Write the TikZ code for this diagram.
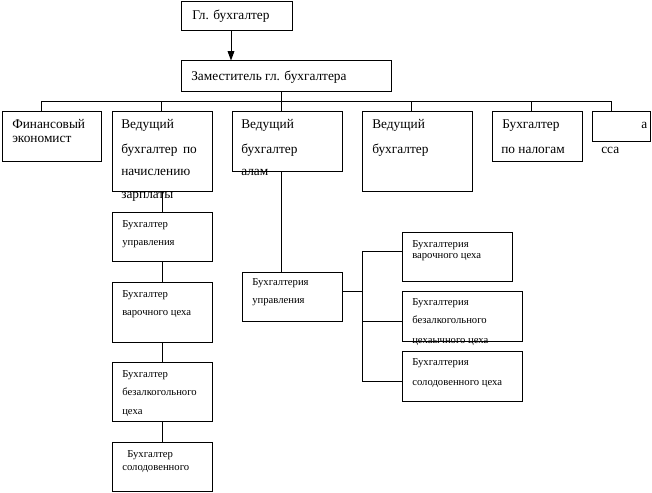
\documentclass[tikz,border=0pt]{standalone}
\usepackage{fontspec}
\setmainfont{Liberation Serif}
\usetikzlibrary{fit,arrows.meta}
\begin{document}
\begin{tikzpicture}[x=0.75pt,y=-0.75pt,
  box/.style={draw,line width=0.75pt,inner sep=0pt},
  big/.style={inner sep=0pt,anchor=base west,font=\fontsize{10}{12}\selectfont},
  sm/.style={inner sep=0pt,anchor=base west,font=\fontsize{8}{10}\selectfont},
  ln/.style={line width=0.75pt}]
\useasboundingbox (0,0) rectangle (652,492);
% boxes
\node[box,fit={(181,2) (292,31)}] (gl) {};
\node[box,fit={(181,61) (391,91)}] (zam) {};
\node[box,fit={(2,111) (101,161)}] (fin) {};
\node[box,fit={(112,111) (212,191)}] (ved1) {};
\node[box,fit={(232,111) (342,171)}] (ved2) {};
\node[box,fit={(362,111) (472,191)}] (ved3) {};
\node[box,fit={(492,111) (582,161)}] (nal) {};
\node[box,fit={(592,111) (650,141)}] (kas) {};
\node[box,fit={(112,212) (212,261)}] (l1) {};
\node[box,fit={(112,282) (212,342)}] (l2) {};
\node[box,fit={(112,362) (212,421)}] (l3) {};
\node[box,fit={(112,442) (212,491)}] (l4) {};
\node[box,fit={(242,272) (342,321)}] (m) {};
\node[box,fit={(402,232) (512,281)}] (r1) {};
\node[box,fit={(402,291) (522,341)}] (r2) {};
\node[box,fit={(402,351) (522,401)}] (r3) {};
% coordinates
\coordinate (ax) at (231,0);
\coordinate (zx) at (281,0);
\coordinate (d1) at (41,101);
\coordinate (d2) at (161,101);
\coordinate (d3) at (281,101);
\coordinate (d4) at (411,101);
\coordinate (d5) at (531,101);
\coordinate (d6) at (611,101);
\coordinate (mx) at (281,0);
\coordinate (rb) at (362,291);
\coordinate (b1) at (362,251);
\coordinate (b2) at (362,321);
\coordinate (b3) at (362,381);
% connectors
\draw[ln,-{Triangle[length=7pt,width=5pt]}] (gl.south -| ax) -- (zam.north -| ax);
\draw[ln] (zam.south -| zx) -- (d3);
\draw[ln] (d1) -- (d6);
\draw[ln] (d1) -- (d1 |- fin.north);
\draw[ln] (d2) -- (d2 |- ved1.north);
\draw[ln] (d3) -- (d3 |- ved2.north);
\draw[ln] (d4) -- (d4 |- ved3.north);
\draw[ln] (d5) -- (d5 |- nal.north);
\draw[ln] (d6) -- (d6 |- kas.north);
\draw[ln] (ved1.south) -- (l1.north);
\draw[ln] (l1.south) -- (l2.north);
\draw[ln] (l2.south) -- (l3.north);
\draw[ln] (l3.south) -- (l4.north);
\draw[ln] (ved2.south -| mx) -- (m.north -| mx);
\draw[ln] (m.east |- rb) -- (rb);
\draw[ln] (b1) -- (b3);
\draw[ln] (b1) -- (r1.west |- b1);
\draw[ln] (b2) -- (r2.west |- b2);
\draw[ln] (b3) -- (r3.west |- b3);
% texts
\node[big] (tgl) at (192,20) {Гл. бухгалтер};
\node[big] (tzam) at (191,80) {Заместитель гл. бухгалтера};
\node[big] (tfin1) at (12,128) {Финансовый};
\node[big] (tfin2) at (12,142) {экономист};
\node[big] (tv11) at (121,128) {Ведущий};
\node[big] (tv12) at (121,153) {бухгалтер\, по};
\node[big] (tv13) at (121,175) {начислению};
\node[big] (tv14) at (121,198) {зарплаты};
\node[big] (tv21) at (241,128) {Ведущий};
\node[big] (tv22) at (241,153) {бухгалтер};
\node[big] (tv23) at (241,175) {алам};
\node[big] (tv31) at (372,128) {Ведущий};
\node[big] (tv32) at (372,153) {бухгалтер};
\node[big] (tn1) at (502,128) {Бухгалтер};
\node[big] (tn2) at (501,153) {по налогам};
\node[big] (tk1) at (641,128) {а};
\node[big] (tk2) at (601,153) {сса};
\node[sm] (tl11) at (122,227) {Бухгалтер};
\node[sm] (tl12) at (122,245) {управления};
\node[sm] (tl21) at (122,297) {Бухгалтер};
\node[sm] (tl22) at (122,315) {варочного цеха};
\node[sm] (tl31) at (122,377) {Бухгалтер};
\node[sm] (tl32) at (122,395) {безалкогольного};
\node[sm] (tl33) at (122,414) {цеха};
\node[sm] (tl41) at (127,457) {Бухгалтер};
\node[sm] (tl42) at (122,470) {солодовенного};
\node[sm] (tm1) at (252,285) {Бухгалтерия};
\node[sm] (tm2) at (252,303) {управления};
\node[sm] (tr11) at (412,247) {Бухгалтерия};
\node[sm] (tr12) at (412,258) {варочного цеха};
\node[sm] (tr21) at (412,305) {Бухгалтерия};
\node[sm] (tr22) at (412,323) {безалкогольного};
\node[sm] (tr23) at (412,343) {цехаычного цеха};
\node[sm] (tr31) at (412,365) {Бухгалтерия};
\node[sm] (tr32) at (412,385) {солодовенного цеха};
\end{tikzpicture}
\end{document}
